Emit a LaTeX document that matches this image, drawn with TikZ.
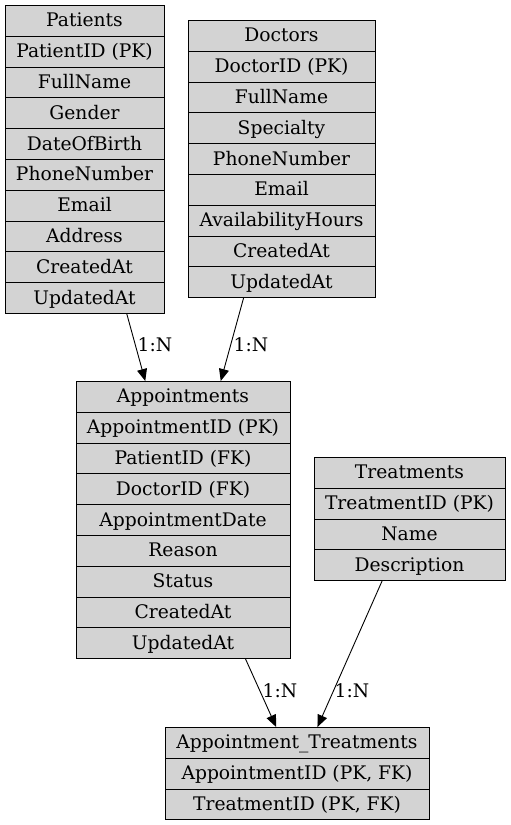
\documentclass[tikz,border=0pt]{standalone}
\usepackage{fontspec}
\setmainfont{DejaVu Serif}
\usetikzlibrary{arrows.meta}
\definecolor{tablefill}{HTML}{D3D3D3}
\tikzset{
  cell/.style={draw=black, fill=tablefill, rectangle, inner sep=0pt, line width=0.9pt,
    minimum width=#1, minimum height=30.8pt, anchor=north, text height=14pt, text depth=2pt,
    font=\fontsize{18.7}{21}\selectfont},
  tbl/.style={rectangle, inner sep=0pt, anchor=north, minimum width=#1},
  rel/.style={draw=black, line width=0.9pt, -{Triangle[length=12pt,width=10pt]}},
  card/.style={inner sep=0pt, font=\fontsize{18.7}{21}\selectfont},
}
\newcommand{\ertable}[6]{%
  \node[tbl=#4, minimum height={#5*30.8pt}] (#1) at (#2,#3) {};
  \foreach \t [count=\i from 0] in {#6} {
    \node[cell=#4] (#1\i) at (#2,{#3+\i*30.8}) {\t};
  }
}
\begin{document}
\begin{tikzpicture}[x=1pt,y=-1pt]
\useasboundingbox (0,0) rectangle (511,825);
\ertable{pat}{84.5}{5}{159pt}{10}{Patients,PatientID (PK),FullName,Gender,DateOfBirth,PhoneNumber,Email,Address,CreatedAt,UpdatedAt}
\ertable{doc}{281.5}{20}{187pt}{9}{Doctors,DoctorID (PK),FullName,Specialty,PhoneNumber,Email,AvailabilityHours,CreatedAt,UpdatedAt}
\ertable{app}{183}{381}{214pt}{9}{Appointments,AppointmentID (PK),PatientID (FK),DoctorID (FK),AppointmentDate,Reason,Status,CreatedAt,UpdatedAt}
\ertable{trt}{409.5}{457}{191pt}{4}{Treatments,TreatmentID (PK),Name,Description}
\ertable{at}{297}{727}{264pt}{3}{Appointment\_Treatments,{AppointmentID (PK, FK)},{TreatmentID (PK, FK)}}
\draw[rel] (pat) -- (app);
\draw[rel] (doc) -- (app);
\draw[rel] (app) -- (at);
\draw[rel] (trt) -- (at);
\node[card] (l1) at (155,345) {1:N};
\node[card] (l2) at (251,345) {1:N};
\node[card] (l3) at (280,691) {1:N};
\node[card] (l4) at (352,691) {1:N};
\end{tikzpicture}
\end{document}
